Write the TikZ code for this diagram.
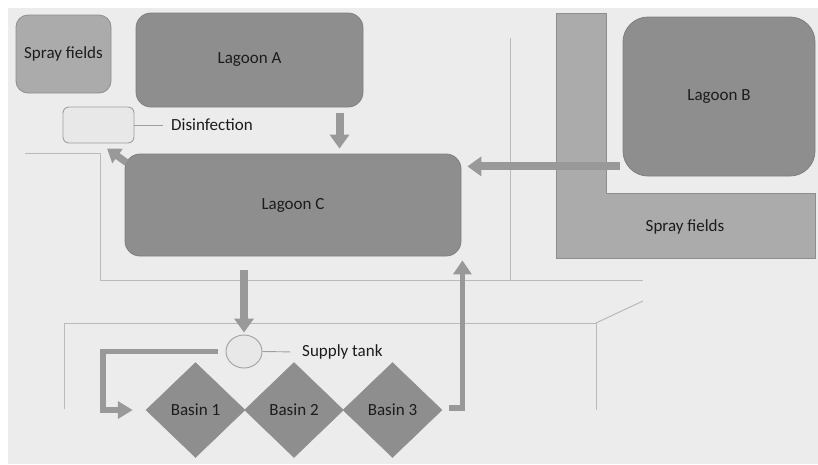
\documentclass[tikz,border=0pt]{standalone}
\usepackage{fontspec}
\setmainfont{Carlito}
\usetikzlibrary{arrows.meta,shapes.geometric}

\definecolor{pagebg}{HTML}{ECECEC}
\definecolor{lagoonfill}{HTML}{8E8E8E}
\definecolor{lagoonedge}{HTML}{7F7F7F}
\definecolor{sprayfill}{HTML}{ABABAB}
\definecolor{sprayedge}{HTML}{8E8E8E}
\definecolor{palefill}{HTML}{E8E8E8}
\definecolor{paleedge}{HTML}{A0A0A0}
\definecolor{flowcol}{HTML}{999999}
\definecolor{outlinecol}{HTML}{BABABA}
\definecolor{inkcol}{HTML}{1C1C1C}

\begin{document}
\begin{tikzpicture}[x=1pt,y=-1pt,
  font=\fontsize{17}{20}\selectfont, text=inkcol,
  lagoon/.style={draw=lagoonedge, fill=lagoonfill, line width=0.8pt,
    rounded corners=15pt, inner sep=0pt},
  spraybox/.style={draw=sprayedge, fill=sprayfill, line width=0.8pt,
    rounded corners=12pt, inner sep=0pt},
  palebox/.style={draw=paleedge, fill=palefill, line width=0.9pt, inner sep=0pt},
  basin/.style={diamond, fill=lagoonfill, draw=lagoonfill, line width=0.5pt,
    inner sep=0pt, minimum width=99pt, minimum height=95pt},
  tag/.style={inner sep=4pt, anchor=west},
  guide/.style={draw=outlinecol, line width=1pt},
  flow/.style={draw=flowcol, line width=8pt,
    -{Triangle[width=19pt,length=14pt]}},
  flowthin/.style={draw=flowcol, line width=5.5pt, line join=miter,
    -{Triangle[width=17pt,length=15pt]}}
]
\useasboundingbox (0,0) rectangle (818,464);
\fill[white] (0,0) rectangle (818,464);
\fill[pagebg] (8,8) rectangle (818,464);

% site boundary lines
\draw[guide] (25,153) -- (100,153) -- (100,280) -- (643,280);
\draw[guide] (510,38) -- (510,280);
\draw[guide] (64,409) -- (64,323) -- (596,323) -- (596,410);
\draw[guide] (596,323) -- (643,301);

% L-shaped spray field beside lagoon B
\draw[draw=sprayedge, fill=sprayfill, line width=0.8pt]
  (556,13) -- (606,13) -- (606,193) -- (815,193) -- (815,258) -- (556,258) -- cycle;
\node (sprayR) at (685,227) {Spray fields};

% lagoons and treatment units
\node[spraybox, minimum width=95pt, minimum height=78pt] (sprayL) at (63.5,54) {Spray fields};
\node[lagoon, minimum width=227pt, minimum height=94pt] (lagA) at (249.5,60) {Lagoon A};
\node[lagoon, minimum width=192pt, minimum height=159pt, rounded corners=25pt] (lagB) at (719,96.5) {Lagoon B};
\node[lagoon, minimum width=336pt, minimum height=102pt] (lagC) at (293,205) {Lagoon C};
\node[palebox, rounded corners=6pt, minimum width=71pt, minimum height=36pt] (dis) at (98.5,125) {};
\node[tag] (dislbl) at (167,125) {Disinfection};
\node[palebox, ellipse, minimum width=36pt, minimum height=33pt] (tank) at (244,351.5) {};
\node[tag] (tanklbl) at (298,352) {Supply tank};

\node[basin] (b1) at (195.5,410) {Basin 1};
\node[basin] (b2) at (294,410) {Basin 2};
\node[basin] (b3) at (392.5,410) {Basin 3};

% label leaders
\draw[paleedge, line width=0.9pt, shorten >=4pt] (dis.east) -- (dislbl.west);
\draw[paleedge, line width=0.9pt, shorten >=8pt] (tank.east) -- (tanklbl.west);

% flow arrows
\draw[flow, shorten <=6pt, shorten >=5pt] ([xshift=90pt]lagA.south) -- ([xshift=90pt]lagA.south |- lagC.north);
\draw[flow, line width=7pt, -{Triangle[width=17pt,length=13pt]}]
  ([shift={(2pt,-9pt)}]lagC.north west) -- ([shift={(8.5pt,-5pt)}]dis.south);
\draw[flow, shorten <=3pt, shorten >=6pt] ([yshift=10pt]lagB.south west) -- ([yshift=10pt]lagB.south west -| lagC.east);
\draw[flow, shorten <=14pt, shorten >=2pt] (tank.north |- lagC.south) -- (tank.north);
\draw[flowthin, shorten <=8pt, shorten >=13pt] (tank.west) -| ([xshift=-43pt]b1.west) -- (b1.west);
\draw[flowthin, -{Triangle[width=18pt,length=14pt]}, shorten <=7pt, shorten >=4pt]
  ([yshift=2pt]b3.east) -| ([xshift=1pt]lagC.south east);
\end{tikzpicture}
\end{document}
